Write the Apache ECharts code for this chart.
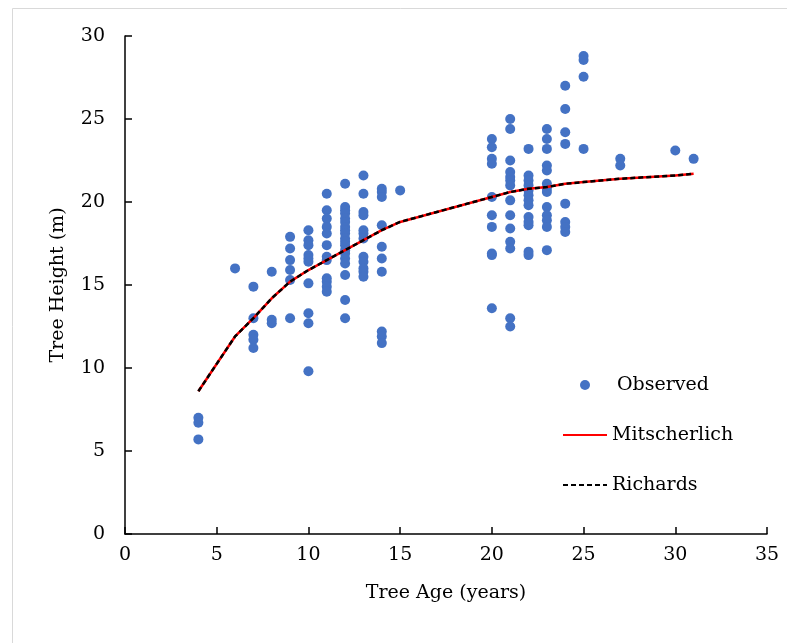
<!DOCTYPE html>
<html>
<head>
<meta charset="utf-8">
<script src="https://cdn.jsdelivr.net/npm/echarts@6/dist/echarts.min.js"></script>
<style>
  html, body { margin: 0; padding: 0; background: #fff; }
  #chart { width: 787px; height: 643px; }
</style>
</head>
<body>
<div id="chart"></div>
<script>
// observed tree heights, grouped by age
const obsAges = [4, 6, 7, 8, 9, 10, 11, 12, 13, 14, 15, 20, 21, 22, 23, 24, 25, 27, 30, 31];
const obsHeights = [
  [7.0, 6.7, 5.7],
  [16.0],
  [14.9, 13.0, 12.0, 11.7, 11.2],
  [15.8, 12.9, 12.7],
  [17.9, 17.2, 16.5, 15.9, 15.3, 13.0],
  [18.3, 17.7, 17.4, 16.8, 16.6, 16.4, 15.1, 13.3, 12.7, 9.8],
  [20.5, 19.5, 19.0, 18.5, 18.1, 17.4, 16.7, 16.5, 15.4, 15.2, 14.9, 14.6],
  [21.1, 19.7, 19.5, 19.3, 19.0, 18.8, 18.5, 18.3, 18.1, 17.8, 17.6, 17.4, 17.1, 16.9, 16.6, 16.3, 15.6, 14.1, 13.0],
  [21.6, 20.5, 19.4, 19.2, 18.3, 18.1, 17.8, 16.7, 16.4, 16.0, 15.8, 15.5],
  [20.8, 20.6, 20.3, 18.6, 17.3, 16.6, 15.8, 12.2, 11.9, 11.5],
  [20.7],
  [23.8, 23.3, 22.6, 22.3, 20.3, 19.2, 18.5, 16.9, 16.8, 13.6],
  [25.0, 24.4, 22.5, 21.8, 21.5, 21.3, 21.0, 20.1, 19.2, 18.4, 17.6, 17.2, 13.0, 12.5],
  [23.2, 21.6, 21.3, 21.0, 20.7, 20.4, 20.1, 19.8, 19.1, 18.8, 18.6, 17.0, 16.8],
  [24.4, 23.8, 23.2, 22.2, 21.9, 21.1, 20.8, 20.6, 19.7, 19.2, 18.9, 18.5, 17.1],
  [27.0, 25.6, 24.2, 23.5, 19.9, 18.8, 18.5, 18.2],
  [28.8, 28.55, 27.55, 23.2],
  [22.6, 22.2],
  [23.1],
  [22.6]
];

// fitted curves
const fitAges = [4, 6, 7, 8, 9, 10, 11, 12, 13, 14, 15, 20, 21, 22, 23, 24, 25, 27, 30, 31];
const mitscherlich = [8.6, 11.9, 13.0, 14.2, 15.2, 15.9, 16.5, 17.1, 17.7, 18.3, 18.8, 20.3, 20.6, 20.8, 20.9, 21.1, 21.2, 21.4, 21.6, 21.7];
const richards = [8.6, 11.9, 13.0, 14.2, 15.2, 15.9, 16.5, 17.1, 17.7, 18.3, 18.8, 20.3, 20.6, 20.8, 20.9, 21.1, 21.2, 21.4, 21.6, 21.7];

const xTicks = [0, 5, 10, 15, 20, 25, 30, 35];
const yTicks = [0, 5, 10, 15, 20, 25, 30];

const observed = [];
obsAges.forEach((age, i) => {
  obsHeights[i].forEach(h => observed.push([age, h]));
});
const pair = (xs, ys) => xs.map((x, i) => [x, ys[i]]);

const FONT = '"DejaVu Serif", "Liberation Serif", serif';

const option = {
  animation: false,
  textStyle: { fontFamily: FONT },
  graphic: [
    {
      type: 'rect',
      shape: { x: 12.5, y: 8.5, width: 800, height: 700 },
      style: { fill: 'none', stroke: '#d9d9d9', lineWidth: 1 },
      silent: true,
    },
  ],
  grid: {
    left: 125,
    right: 20,
    top: 36,
    bottom: 109,
    containLabel: false,
  },
  legend: {
    orient: 'vertical',
    left: 557,
    top: 368,
    itemWidth: 44,
    itemHeight: 10,
    itemGap: 26,
    textStyle: { fontFamily: FONT, fontSize: 19, color: '#000', lineHeight: 24 },
    data: [
      { name: 'Observed', icon: 'circle', textStyle: { padding: [0, 0, 0, 5] } },
      { name: 'Mitscherlich', itemStyle: { opacity: 0 } },
      { name: 'Richards', itemStyle: { opacity: 0 } },
    ],
  },
  xAxis: {
    type: 'value',
    min: xTicks[0],
    max: xTicks[xTicks.length - 1],
    interval: 5,
    name: 'Tree Age (years)',
    nameLocation: 'middle',
    nameGap: 50,
    nameTextStyle: { fontFamily: FONT, fontSize: 19, color: '#000' },
    axisLine: { lineStyle: { color: '#000', width: 1.5 } },
    axisTick: { inside: true, length: 7, lineStyle: { color: '#000', width: 1.5 } },
    axisLabel: { fontFamily: FONT, fontSize: 19, color: '#000', margin: 12 },
    splitLine: { show: false },
  },
  yAxis: {
    type: 'value',
    min: yTicks[0],
    max: yTicks[yTicks.length - 1],
    interval: 5,
    name: 'Tree Height (m)',
    nameLocation: 'middle',
    nameGap: 57,
    nameRotate: 90,
    nameTextStyle: { fontFamily: FONT, fontSize: 19, color: '#000' },
    axisLine: { show: true, lineStyle: { color: '#000', width: 1.5 } },
    axisTick: { show: true, inside: true, length: 7, lineStyle: { color: '#000', width: 1.5 } },
    axisLabel: { fontFamily: FONT, fontSize: 19, color: '#000', margin: 20 },
    splitLine: { show: false },
  },
  series: [
    {
      name: 'Observed',
      type: 'scatter',
      data: observed,
      symbol: 'circle',
      symbolSize: 10,
      itemStyle: { color: '#4472C4', opacity: 1 },
      z: 2,
    },
    {
      name: 'Mitscherlich',
      type: 'line',
      data: pair(fitAges, mitscherlich),
      symbol: 'none',
      lineStyle: { color: '#ff0000', width: 2.5 },
      itemStyle: { color: '#ff0000' },
      z: 3,
    },
    {
      name: 'Richards',
      type: 'line',
      data: pair(fitAges, richards),
      symbol: 'none',
      lineStyle: { color: '#000', width: 2.5, type: [5, 3] },
      itemStyle: { color: '#000' },
      z: 4,
    },
  ],
};

const myChart = echarts.init(document.getElementById('chart'), null, { renderer: 'canvas' });
myChart.setOption(option);
</script>
</body>
</html>
